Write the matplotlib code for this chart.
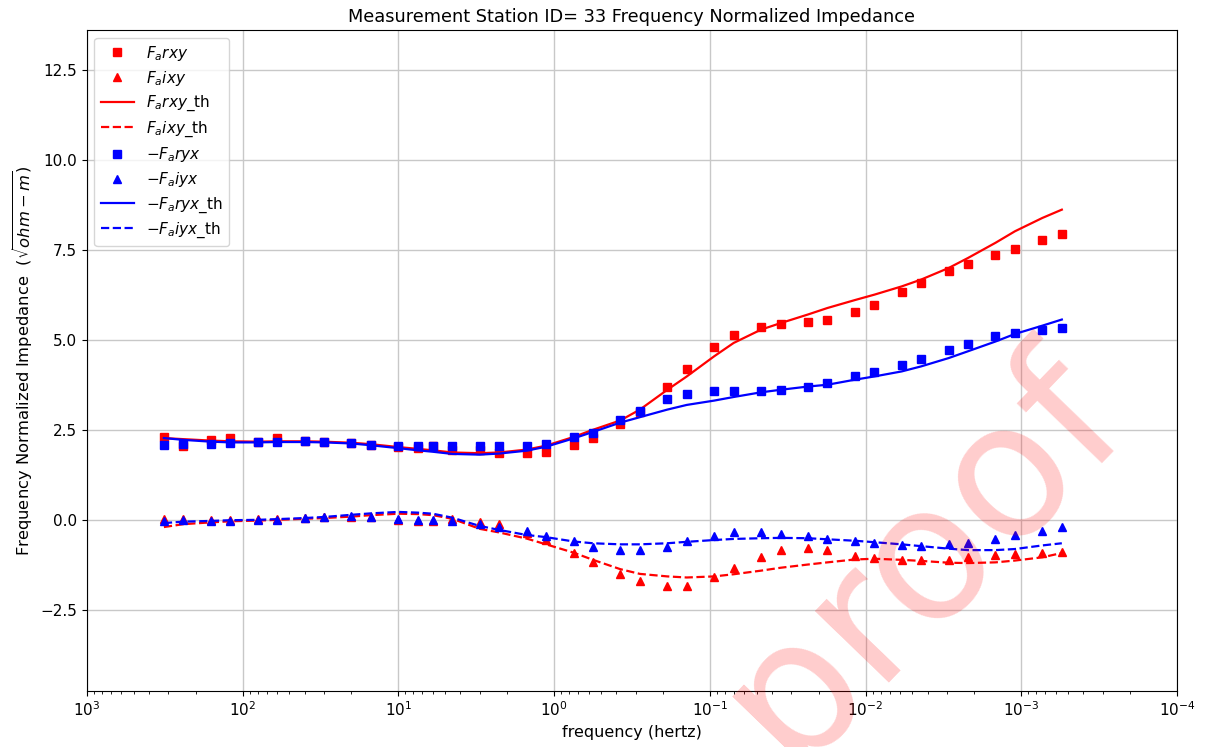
import matplotlib.pyplot as plt
import numpy as np

freq = [320, 240, 160, 120, 80, 60, 40, 30, 20, 15, 10, 7.5, 6, 4.5, 3, 2.25,
        1.5, 1.125, 0.75, 0.5625, 0.375, 0.28125, 0.1875, 0.140625, 0.09375,
        0.0703125, 0.046875, 0.03515625, 0.0234375, 0.017578125, 0.01171875,
        0.0087890625, 0.005859375, 0.00439453125, 0.0029296875, 0.002197265625,
        0.00146484375, 0.0010986328125, 0.000732421875, 0.00054931640625]

# measured
farxy = [2.30, 2.05, 2.21, 2.26, 2.17, 2.27, 2.18, 2.17, 2.14, 2.07,
         2.03, 1.99, 2.04, 1.93, 1.93, 1.85, 1.85, 1.88, 2.08, 2.27,
         2.66, 3.00, 3.69, 4.19, 4.81, 5.12, 5.36, 5.44, 5.50, 5.56,
         5.77, 5.97, 6.33, 6.58, 6.90, 7.10, 7.34, 7.52, 7.76, 7.93]
faixy = [0.03, 0.02, 0.00, 0.00, 0.02, 0.02, 0.05, 0.07, 0.09, 0.07,
         0.00, -0.02, -0.02, 0.02, -0.05, -0.12, -0.37, -0.56, -0.91, -1.16,
         -1.50, -1.69, -1.83, -1.83, -1.59, -1.34, -1.02, -0.85, -0.79, -0.85,
         -1.00, -1.06, -1.11, -1.11, -1.11, -1.02, -0.97, -0.94, -0.91, -0.88]
faryx = [2.08, 2.10, 2.11, 2.13, 2.15, 2.17, 2.18, 2.17, 2.13, 2.07,
         2.06, 2.06, 2.06, 2.06, 2.06, 2.06, 2.06, 2.11, 2.30, 2.41,
         2.76, 3.02, 3.35, 3.50, 3.58, 3.58, 3.58, 3.61, 3.70, 3.80,
         3.98, 4.09, 4.31, 4.47, 4.72, 4.89, 5.09, 5.19, 5.28, 5.32]
faiyx = [-0.03, 0.00, -0.02, -0.02, 0.00, 0.00, 0.05, 0.07, 0.11, 0.09,
         0.02, 0.00, 0.00, -0.02, -0.11, -0.20, -0.32, -0.46, -0.60, -0.74,
         -0.85, -0.85, -0.74, -0.60, -0.44, -0.33, -0.33, -0.39, -0.46, -0.54,
         -0.60, -0.63, -0.70, -0.72, -0.67, -0.63, -0.54, -0.42, -0.30, -0.19]

# theoretical
farxy_th = [2.27, 2.24, 2.20, 2.18, 2.17, 2.18, 2.18, 2.17, 2.14, 2.10,
            2.02, 1.97, 1.93, 1.87, 1.85, 1.87, 1.95, 2.06, 2.30, 2.50,
            2.76, 3.06, 3.61, 3.98, 4.54, 4.91, 5.28, 5.46, 5.70, 5.88,
            6.10, 6.25, 6.48, 6.67, 6.99, 7.27, 7.69, 8.01, 8.38, 8.61]
faixy_th = [-0.20, -0.12, -0.07, -0.04, -0.02, 0.00, 0.03, 0.05, 0.09, 0.13,
            0.17, 0.16, 0.13, 0.03, -0.25, -0.35, -0.52, -0.68, -0.91, -1.11,
            -1.37, -1.50, -1.57, -1.60, -1.57, -1.51, -1.41, -1.33, -1.24, -1.18,
            -1.10, -1.08, -1.11, -1.14, -1.19, -1.20, -1.18, -1.13, -1.04, -0.92]
faryx_th = [2.27, 2.22, 2.17, 2.15, 2.15, 2.16, 2.16, 2.15, 2.12, 2.07,
            1.99, 1.93, 1.89, 1.83, 1.81, 1.84, 1.92, 2.03, 2.26, 2.44,
            2.70, 2.85, 3.06, 3.19, 3.31, 3.41, 3.54, 3.61, 3.70, 3.75,
            3.89, 3.98, 4.12, 4.26, 4.49, 4.68, 4.95, 5.16, 5.39, 5.56]
faiyx_th = [-0.09, -0.05, -0.03, -0.01, 0.00, 0.02, 0.05, 0.08, 0.14, 0.18,
            0.22, 0.20, 0.17, 0.06, -0.17, -0.28, -0.42, -0.48, -0.60, -0.65,
            -0.68, -0.68, -0.65, -0.61, -0.56, -0.53, -0.51, -0.50, -0.51, -0.54,
            -0.58, -0.62, -0.68, -0.73, -0.80, -0.84, -0.84, -0.81, -0.71, -0.65]

fig = plt.figure(figsize=(12.06, 7.47), dpi=100)
ax = fig.add_axes([0.072, 0.075, 0.904, 0.885])

ax.plot(freq, farxy, "rs", markersize=6, label="$F_arxy$")
ax.plot(freq, faixy, "r^", markersize=6, label="$F_aixy$")
ax.plot(freq, farxy_th, "r-", linewidth=1.6, label="$F_arxy$_th")
ax.plot(freq, faixy_th, "r--", linewidth=1.6, label="$F_aixy$_th")
ax.plot(freq, faryx, "bs", markersize=6, label="$-F_aryx$")
ax.plot(freq, faiyx, "b^", markersize=6, label="$-F_aiyx$")
ax.plot(freq, faryx_th, "b-", linewidth=1.6, label="$-F_aryx$_th")
ax.plot(freq, faiyx_th, "b--", linewidth=1.6, label="$-F_aiyx$_th")

ax.set_xscale("log")
ax.set_xlim(1e3, 1e-4)
ax.set_ylim(-4.75, 13.6)
ax.set_yticks([-2.5, 0, 2.5, 5, 7.5, 10, 12.5])
ax.grid(True, which="major", color="#c8c8c8", linewidth=1)
ax.tick_params(labelsize=11)

ax.set_title("Measurement Station ID= 33 Frequency Normalized Impedance", fontsize=12.8)
ax.set_xlabel("frequency (hertz)", fontsize=11.5)
ax.set_ylabel("Frequency Normalized Impedance  ($\\sqrt{ohm-m}$)", fontsize=11.8)
ax.legend(loc="upper left", fontsize=11, labelspacing=0.4, handlelength=2.2)

# watermark
fig.text(0.765, 0.255, "proof", fontsize=135, color="red", alpha=0.2,
         rotation=46, ha="center", va="center", zorder=10)

fig.savefig("out.png", dpi=100)
